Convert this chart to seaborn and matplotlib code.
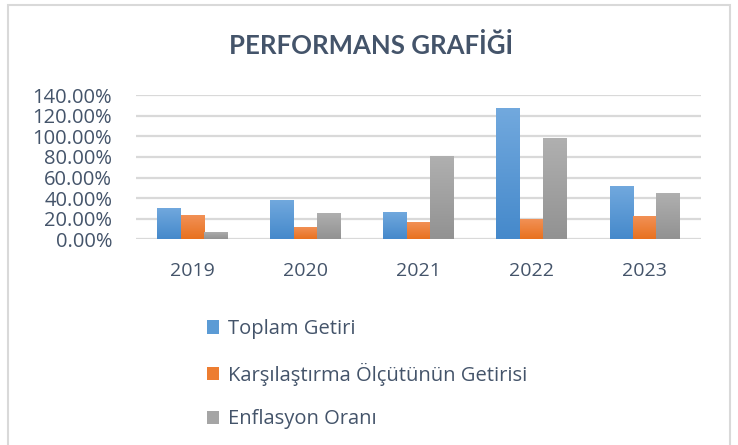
import numpy as np
import pandas as pd
import matplotlib
matplotlib.use('Agg')
import matplotlib.pyplot as plt
import seaborn as sns
from matplotlib.colors import LinearSegmentedColormap
from matplotlib.patches import Patch, Rectangle

# veriler (%)
years = ['2019', '2020', '2021', '2022', '2023']
toplam_getiri = [30.3, 38.1, 26.4, 127.2, 51.6]
karsilastirma = [23.5, 11.9, 16.8, 19.7, 22.6]
enflasyon = [7.1, 25.5, 80.7, 98.1, 44.9]
series = ['Toplam Getiri', 'Karşılaştırma Ölçütünün Getirisi', 'Enflasyon Oranı']
yticks = [0, 20, 40, 60, 80, 100, 120, 140]

colors = ['#5B9BD5', '#ED7D31', '#A5A5A5']
grad_top = ['#72A9DE', '#F29258', '#B0B0B0']
grad_bottom = ['#4589CB', '#E8711F', '#929292']
text_color = '#44546A'

sns.set_style('white')
plt.rcParams['font.family'] = ['Open Sans', 'DejaVu Sans']

df = pd.DataFrame({
    'Yıl': years * 3,
    'Seri': np.repeat(series, len(years)),
    'Değer': toplam_getiri + karsilastirma + enflasyon,
})

fig = plt.figure(figsize=(7.38, 4.45), dpi=100)
ax = fig.add_axes([0.184, 0.4618, 0.766, 0.3247])
sns.barplot(data=df, x='Yıl', y='Değer', hue='Seri', hue_order=series,
            palette=colors, width=0.62, ax=ax, legend=False, errorbar=None)

# Excel tarzı dikey gradyan
pal_rgb = [matplotlib.colors.to_rgb(c) for c in colors]
for p in list(ax.patches):
    fc = p.get_facecolor()[:3]
    i = int(np.argmin([np.sum((np.array(fc) - np.array(c)) ** 2) for c in pal_rgb]))
    cmap = LinearSegmentedColormap.from_list('g', [grad_top[i], grad_bottom[i]])
    x0, w, h = p.get_x(), p.get_width(), p.get_height()
    im = ax.imshow(np.linspace(0, 1, 100)[:, None], cmap=cmap, aspect='auto',
                   extent=[x0, x0 + w, 0, h], origin='upper', zorder=2)
    im.set_clip_path(p)
    p.set_facecolor('none')
    p.set_edgecolor('none')

ax.set_xlim(-0.5, len(years) - 0.5)
ax.set_ylim(0, 140)
ax.set_yticks(yticks)
ax.set_yticklabels([f'{v:.2f}%' for v in yticks])
ax.yaxis.grid(True, color='#D9D9D9', lw=1.6)
ax.set_axisbelow(True)
for s in ax.spines.values():
    s.set_visible(False)
ax.tick_params(axis='both', length=0, colors=text_color)
ax.tick_params(axis='y', pad=17, labelsize=14.5)
ax.tick_params(axis='x', pad=16, labelsize=14)
ax.set_xlabel('')
ax.set_ylabel('')

fig.text(0.503, 1 - 46 / 445, 'PERFORMANS GRAFİĞİ', ha='center', va='center',
         fontsize=18.5, fontweight='bold', color=text_color, family='Lato')

handles = [Patch(facecolor=c, edgecolor='none') for c in colors]
fig.legend(handles, series, loc='upper left', bbox_to_anchor=(0.28, 0.283),
           frameon=False, fontsize=14.5, handlelength=0.62, handleheight=0.62,
           handletextpad=0.45, labelspacing=1.17, borderpad=0, borderaxespad=0,
           labelcolor=text_color)

fig.add_artist(Rectangle((8 / 738, -0.01), 722 / 738, 440 / 445 + 0.01,
                         transform=fig.transFigure, fill=False,
                         ec='#D9D9D9', lw=1.5))

fig.savefig('out.png', dpi=100)
